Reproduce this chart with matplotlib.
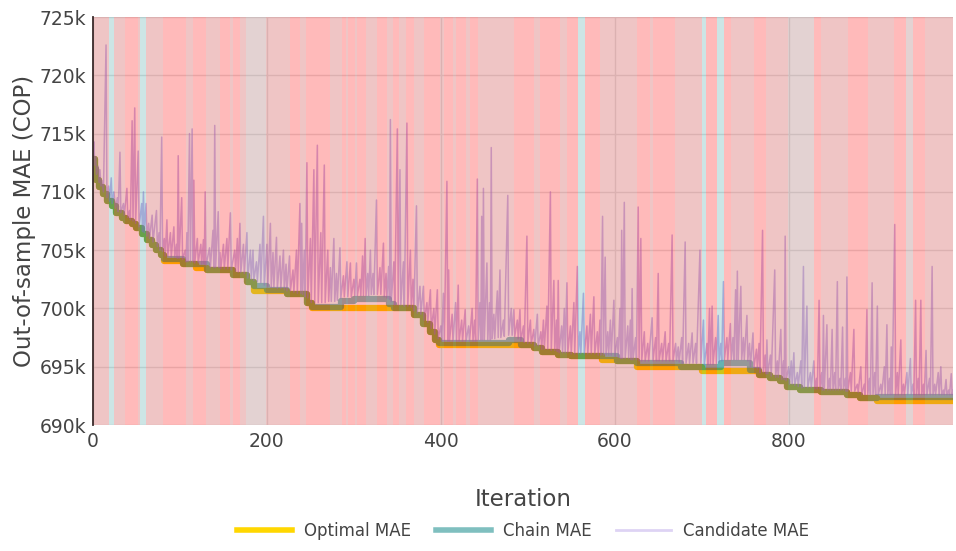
import matplotlib
matplotlib.use('Agg')
import matplotlib.pyplot as plt
from matplotlib.lines import Line2D

plt.rcParams['font.family'] = ['DejaVu Sans']

# MAE values in thousands of COP
opt_iter = [0, 2, 4, 7, 12, 16, 22, 27, 33, 38, 45, 50, 56, 62, 68, 73, 78, 82, 104, 119, 131,
            161, 177, 185, 223, 246, 252, 369, 380, 388, 393, 398, 507, 516, 535, 550, 585,
            603, 626, 700, 766, 778, 790, 798, 813, 837, 867, 882, 902, 989]
opt_mae = [712.8, 712.0, 711.0, 710.4, 709.8, 709.2, 708.8, 708.2, 707.8, 707.5, 707.2, 706.9,
           706.4, 705.9, 705.4, 705.0, 704.6, 704.1, 703.8, 703.5, 703.3, 702.9, 702.3, 701.5,
           701.2, 700.5, 700.0, 699.4, 698.7, 698.0, 697.3, 696.9, 696.6, 696.3, 696.0, 695.9,
           695.6, 695.5, 695.0, 694.6, 694.3, 694.0, 693.8, 693.3, 693.0, 692.8, 692.6, 692.3,
           692.1, 692.1]

chain_iter = [0, 2, 4, 7, 12, 16, 22, 27, 33, 38, 45, 50, 56, 62, 68, 73, 78, 82, 104, 131,
              161, 177, 185, 200, 223, 246, 252, 285, 300, 340, 346, 369, 380, 388, 393, 398,
              478, 492, 507, 516, 535, 550, 603, 626, 676, 722, 756, 766, 778, 790, 798, 813,
              837, 867, 882, 902, 989]
chain_mae = [712.8, 712.0, 711.0, 710.4, 709.8, 709.2, 708.8, 708.2, 707.8, 707.5, 707.2, 706.9,
             706.4, 705.9, 705.4, 705.0, 704.6, 704.2, 703.8, 703.3, 702.9, 702.3, 701.9, 701.6,
             701.2, 700.5, 700.1, 700.6, 700.8, 700.4, 700.0, 699.4, 698.7, 698.0, 697.3, 697.0,
             697.3, 696.9, 696.6, 696.3, 696.0, 695.9, 695.5, 695.3, 695.0, 695.3, 694.7, 694.3,
             694.0, 693.8, 693.3, 693.0, 692.8, 692.6, 692.3, 692.4, 692.4]

cand_iter = [0, 1, 2, 3, 4, 6, 7, 8, 9, 10, 12, 15, 16, 18, 19, 21, 22, 24, 26, 28, 29, 31, 32,
             35, 36, 39, 40, 42, 43, 45, 46, 48, 49, 52, 53, 56, 57, 58, 59, 61, 62, 64, 65, 68,
             69, 73, 74, 76, 77, 79, 80, 82, 83, 85, 86, 89, 90, 93, 94, 96, 97, 98, 99, 102,
             103, 106, 107, 108, 109, 111, 112, 114, 115, 116, 117, 120, 121, 124, 125, 127, 128,
             129, 130, 134, 135, 138, 139, 140, 141, 144, 145, 146, 147, 150, 151, 154, 155, 158,
             159, 163, 164, 166, 167, 169, 170, 173, 174, 177, 178, 181, 182, 184, 185, 188, 189,
             192, 193, 196, 197, 200, 201, 204, 205, 207, 208, 211, 212, 215, 216, 219, 220, 222,
             223, 226, 227, 230, 231, 234, 235, 238, 239, 240, 241, 243, 244, 246, 247, 250, 251,
             254, 255, 258, 259, 262, 263, 266, 267, 270, 271, 273, 274, 277, 278, 280, 281, 284,
             285, 288, 289, 292, 293, 296, 297, 300, 301, 303, 304, 307, 308, 310, 311, 313, 314,
             316, 317, 319, 320, 322, 323, 326, 327, 330, 331, 334, 335, 337, 338, 340, 341, 342,
             343, 346, 347, 350, 351, 353, 354, 357, 358, 361, 362, 365, 366, 368, 369, 372, 373,
             376, 377, 380, 381, 384, 385, 388, 389, 392, 393, 396, 397, 400, 401, 403, 404, 407,
             408, 409, 410, 413, 414, 417, 418, 420, 421, 424, 425, 428, 429, 432, 433, 436, 437,
             439, 440, 442, 443, 445, 446, 447, 448, 449, 450, 453, 454, 456, 457, 458, 459, 461,
             462, 465, 466, 468, 469, 472, 473, 477, 478, 481, 482, 484, 485, 488, 489, 491, 492,
             495, 496, 499, 500, 503, 504, 507, 508, 511, 512, 515, 516, 518, 519, 522, 523, 526,
             527, 530, 531, 533, 534, 535, 536, 539, 540, 542, 543, 545, 546, 549, 550, 553, 554,
             557, 558, 560, 561, 564, 565, 568, 569, 572, 573, 576, 577, 580, 581, 583, 584, 586,
             587, 589, 590, 592, 593, 595, 596, 599, 600, 603, 604, 606, 607, 608, 609, 611, 612,
             615, 616, 618, 619, 620, 621, 624, 625, 627, 628, 630, 631, 634, 635, 638, 639, 643,
             644, 647, 648, 650, 651, 654, 655, 658, 659, 662, 663, 666, 667, 670, 671, 673, 674,
             677, 678, 681, 682, 685, 686, 689, 690, 693, 694, 698, 699, 702, 703, 706, 707, 709,
             710, 712, 713, 716, 717, 719, 720, 722, 723, 725, 726, 729, 730, 733, 734, 736, 737,
             739, 740, 741, 742, 745, 746, 748, 749, 752, 753, 755, 756, 759, 760, 763, 764, 766,
             767, 770, 771, 773, 774, 775, 776, 779, 780, 784, 785, 787, 788, 791, 792, 794, 795,
             796, 797, 800, 801, 803, 804, 806, 807, 810, 811, 814, 815, 817, 818, 821, 822, 825,
             826, 829, 830, 832, 833, 835, 836, 838, 839, 840, 841, 844, 845, 847, 848, 850, 851,
             853, 854, 856, 857, 859, 860, 862, 863, 865, 866, 867, 868, 871, 872, 875, 876, 879,
             880, 883, 884, 887, 888, 890, 891, 893, 894, 896, 897, 899, 900, 902, 903, 906, 907,
             910, 911, 913, 914, 916, 917, 918, 919, 922, 923, 925, 926, 929, 930, 932, 933, 936,
             937, 940, 941, 943, 944, 946, 947, 949, 950, 952, 953, 955, 956, 958, 959, 962, 963,
             965, 966, 968, 969, 972, 973, 975, 976, 978, 979, 981, 982, 984, 985, 987, 988, 989]
cand_mae = [713.0, 714.3, 712.3, 713.0, 711.5, 712.2, 710.8, 711.9, 710.5, 711.0, 710.0, 722.6,
            709.5, 710.5, 709.2, 711.2, 709.0, 710.0, 708.6, 709.5, 708.3, 713.4, 708.2, 709.0,
            708.0, 710.3, 707.8, 708.4, 707.6, 716.1, 707.5, 717.2, 707.3, 713.5, 707.0, 709.0,
            706.6, 710.0, 706.5, 709.0, 706.2, 707.3, 706.0, 708.0, 705.7, 708.4, 705.3, 706.5,
            705.0, 714.7, 704.9, 706.0, 704.5, 707.6, 704.5, 706.5, 704.4, 707.0, 704.4, 705.5,
            704.3, 713.1, 704.3, 709.5, 704.2, 705.0, 704.0, 706.5, 704.0, 715.0, 704.0, 715.4,
            704.0, 711.0, 703.9, 706.0, 703.9, 705.5, 703.8, 705.9, 703.8, 710.0, 703.7, 705.2,
            703.5, 706.7, 703.5, 715.7, 703.5, 708.3, 703.5, 704.8, 703.4, 705.5, 703.4, 706.0,
            703.4, 708.2, 703.3, 705.0, 703.2, 706.0, 703.1, 707.3, 703.1, 705.5, 703.0, 706.5,
            702.6, 705.0, 702.5, 705.0, 702.4, 704.0, 702.3, 705.5, 702.2, 707.9, 702.0, 705.5,
            701.9, 707.3, 701.8, 704.8, 701.8, 706.1, 701.7, 704.5, 701.7, 705.0, 701.6, 703.8,
            701.5, 704.5, 701.5, 703.3, 701.4, 705.0, 701.3, 709.0, 701.3, 707.3, 701.2, 705.0,
            701.0, 712.5, 700.9, 706.0, 700.5, 711.9, 700.5, 714.0, 700.5, 706.5, 700.5, 712.3,
            700.5, 705.0, 700.6, 703.5, 700.6, 706.0, 700.6, 703.0, 700.7, 705.2, 700.9, 702.8,
            701.0, 704.0, 701.0, 703.9, 701.0, 702.5, 701.1, 703.9, 701.1, 702.5, 701.1, 704.5,
            701.1, 706.0, 701.1, 703.0, 701.1, 705.0, 701.2, 703.0, 701.2, 709.3, 701.2, 703.5,
            701.2, 705.6, 701.0, 703.0, 700.9, 703.6, 700.8, 716.2, 700.6, 704.0, 700.3, 715.4,
            700.3, 711.9, 700.3, 704.0, 700.2, 715.9, 700.2, 705.0, 700.1, 702.5, 699.8, 708.8,
            699.6, 701.9, 699.5, 701.9, 699.0, 700.5, 698.8, 701.6, 698.3, 700.0, 697.8, 701.6,
            697.4, 698.5, 697.2, 701.3, 697.2, 710.9, 697.2, 703.3, 697.2, 699.5, 697.2, 700.5,
            697.2, 702.0, 697.2, 699.0, 697.2, 699.9, 697.2, 698.5, 697.2, 700.0, 697.2, 699.0,
            697.2, 711.1, 697.3, 700.5, 697.3, 707.9, 697.3, 710.3, 697.3, 703.9, 697.3, 700.5,
            697.3, 713.8, 697.4, 699.5, 697.4, 701.5, 697.5, 703.3, 697.5, 699.0, 697.6, 709.7,
            697.7, 700.0, 697.7, 699.9, 697.6, 699.0, 697.4, 699.9, 697.2, 698.5, 697.1, 706.2,
            697.0, 699.0, 697.0, 698.2, 696.8, 699.5, 696.8, 698.0, 696.5, 699.0, 696.5, 700.2,
            696.5, 710.0, 696.4, 702.4, 696.4, 699.0, 696.3, 702.4, 696.2, 698.5, 696.2, 700.0,
            696.2, 702.2, 696.2, 698.5, 696.1, 700.5, 696.1, 703.6, 696.1, 698.0, 696.1, 701.3,
            696.1, 698.5, 696.1, 699.5, 696.1, 701.0, 696.1, 698.0, 696.0, 699.0, 696.0, 707.9,
            696.0, 704.4, 696.0, 698.0, 696.0, 699.0, 696.0, 700.7, 695.9, 697.5, 695.8, 700.0,
            695.7, 706.7, 695.7, 709.1, 695.7, 698.5, 695.7, 699.0, 695.6, 701.7, 695.6, 697.5,
            695.6, 708.7, 695.5, 706.0, 695.5, 698.0, 695.5, 697.0, 695.5, 699.2, 695.5, 697.5,
            695.5, 703.0, 695.5, 697.0, 695.5, 698.0, 695.5, 697.0, 695.5, 706.3, 695.5, 697.0,
            695.5, 696.7, 695.4, 697.5, 695.3, 705.7, 695.3, 697.0, 695.3, 697.9, 695.3, 697.0,
            695.3, 705.0, 695.3, 699.0, 695.2, 697.0, 695.2, 700.0, 695.2, 700.2, 695.2, 697.5,
            695.3, 699.4, 695.4, 697.0, 695.5, 702.3, 695.6, 697.5, 695.6, 698.7, 695.6, 697.5,
            695.6, 701.6, 695.6, 703.2, 695.6, 701.9, 695.6, 697.5, 695.6, 699.4, 695.5, 697.0,
            695.0, 697.9, 694.9, 696.5, 694.8, 697.0, 694.5, 706.7, 694.5, 696.0, 694.4, 697.3,
            694.4, 696.0, 694.2, 703.3, 694.1, 695.5, 694.1, 698.2, 693.9, 695.5, 693.9, 706.2,
            693.8, 695.0, 693.5, 695.5, 693.5, 696.2, 693.4, 694.5, 693.3, 695.5, 693.2, 703.6,
            693.2, 700.2, 693.2, 694.5, 693.2, 695.5, 693.1, 694.0, 693.1, 700.7, 693.1, 694.5,
            693.0, 699.4, 693.0, 698.6, 693.0, 694.0, 693.0, 698.2, 693.0, 694.5, 693.0, 702.3,
            693.0, 694.0, 693.0, 698.4, 693.0, 694.0, 692.9, 702.7, 692.9, 694.5, 692.9, 698.2,
            692.9, 693.5, 692.8, 695.0, 692.6, 693.5, 692.6, 699.9, 692.6, 694.0, 692.6, 702.2,
            692.6, 694.5, 692.6, 700.2, 692.6, 693.5, 692.6, 695.0, 692.6, 698.6, 692.6, 694.0,
            692.6, 696.7, 692.6, 707.2, 692.6, 694.5, 692.6, 697.3, 692.6, 693.5, 692.6, 694.5,
            692.6, 695.7, 692.6, 693.5, 692.6, 700.7, 692.6, 694.0, 692.6, 700.7, 692.6, 693.5,
            692.6, 696.4, 692.6, 694.0, 692.6, 703.6, 692.6, 693.5, 692.6, 694.5, 692.6, 695.0,
            692.6, 693.0, 692.6, 693.9, 692.6, 693.0, 692.6, 694.4, 692.6, 693.0]

# background bands: r = rejected run, a = accepted run, m / g = mixed runs
band_start = [0, 19, 25, 37, 52, 54, 62, 81, 108, 115, 131, 146, 158, 162, 169, 177, 200, 227,
              238, 246, 273, 287, 292, 294, 302, 304, 315, 327, 339, 346, 352, 360, 370, 381,
              400, 404, 414, 418, 430, 434, 443, 485, 508, 515, 538, 546, 558, 566, 584, 626,
              641, 645, 670, 701, 705, 718, 726, 734, 761, 775, 800, 830, 838, 869, 892, 899,
              922, 935, 943, 957]
band_end = band_start[1:] + [990]
band_kind = ['m', 'a', 'm', 'r', 'm', 'a', 'm', 'r', 'm', 'r', 'm', 'r', 'm', 'r', 'm', 'g', 'm',
             'r', 'm', 'r', 'm', 'r', 'm', 'r', 'm', 'r', 'm', 'r', 'm', 'r', 'm', 'r', 'm', 'r',
             'm', 'r', 'm', 'r', 'm', 'r', 'm', 'r', 'm', 'r', 'm', 'r', 'a', 'r', 'm', 'r', 'm',
             'r', 'm', 'a', 'r', 'a', 'r', 'm', 'r', 'm', 'g', 'r', 'm', 'r', 'm', 'm', 'r', 'g',
             'r', 'm']
# translucent overlays laid over the traces
band_colors = {'r': ((1.0, 0.0, 0.0), 0.27),
               'a': ((0.0, 0.5, 0.5), 0.20),
               'm': ((0.80, 0.25, 0.25), 0.30),
               'g': ((0.64, 0.42, 0.42), 0.30)}

y_ticks = [690, 695, 700, 705, 710, 715, 720, 725]
x_ticks = [0, 200, 400, 600, 800]

fig = plt.figure(figsize=(9.56, 5.51), dpi=100)
ax = fig.add_axes([93 / 956, 1 - 425 / 551, 860 / 956, 408 / 551])

ax.plot(opt_iter, opt_mae, drawstyle='steps-post', color='gold', lw=4.5, zorder=2)
ax.plot(chain_iter, chain_mae, drawstyle='steps-post', color='teal', alpha=0.5, lw=4.5, zorder=3)
ax.plot(cand_iter, cand_mae, color='mediumpurple', alpha=0.5, lw=1.1, zorder=4)

for s, e, k in zip(band_start, band_end, band_kind):
    c, a = band_colors[k]
    ax.axvspan(s - 0.5, e - 0.5, color=c, alpha=a, lw=0, zorder=5)

ax.set_xlim(0, 989)
ax.set_ylim(690, 725)
ax.set_yticks(y_ticks)
ax.set_yticklabels([f'{v}k' for v in y_ticks])
ax.set_xticks(x_ticks)
ax.set_axisbelow(True)
ax.grid(True, color='#E2E2E2', lw=1)
for sp in ['top', 'right', 'bottom']:
    ax.spines[sp].set_visible(False)
ax.spines['left'].set_color('#3a2a2a')
ax.spines['left'].set_linewidth(1.3)
ax.spines['left'].set_zorder(6)
ax.tick_params(length=0, labelsize=13.5, labelcolor='#444444', pad=5)

fig.text(523 / 956, 1 - 500 / 551, 'Iteration', ha='center', va='center', fontsize=16.5, color='#444444')
fig.text(25 / 956, 1 - 221 / 551, 'Out-of-sample MAE (COP)', rotation=90, ha='center', va='center',
         fontsize=16.5, color='#444444')

handles = [Line2D([], [], color='gold', lw=4),
           Line2D([], [], color='teal', alpha=0.5, lw=4),
           Line2D([], [], color='mediumpurple', alpha=0.3, lw=2)]
fig.legend(handles, ['Optimal MAE', 'Chain MAE', 'Candidate MAE'], loc='center',
           bbox_to_anchor=(523 / 956, 1 - 531 / 551), ncol=3, frameon=False, fontsize=12,
           handlelength=3.3, handletextpad=0.7, columnspacing=1.5, labelcolor='#444444')

fig.savefig('out.png', dpi=100)
